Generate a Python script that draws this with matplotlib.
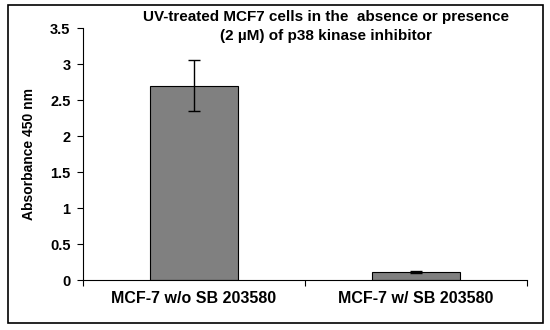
import matplotlib
matplotlib.use("Agg")
import matplotlib.pyplot as plt
from matplotlib.patches import Rectangle

# data
groups = ["MCF-7 w/o SB 203580", "MCF-7 w/ SB 203580"]
absorbance = [2.70, 0.11]
errors = [0.35, 0.01]
yticks = [0, 0.5, 1, 1.5, 2, 2.5, 3, 3.5]

plt.rcParams["font.family"] = ["Liberation Sans", "DejaVu Sans"]

fig = plt.figure(figsize=(5.5, 3.3), dpi=100)
ax = fig.add_axes([83 / 550, 50 / 330, 444 / 550, 252 / 330])

# outer border like the excel chart area
fig.patches.append(Rectangle((8 / 550, 7 / 330), 535 / 550, 318 / 330,
                             transform=fig.transFigure, fill=False,
                             edgecolor="black", linewidth=1.2))

x = [0, 1]
ax.bar(x, absorbance, width=0.4, color="#808080", edgecolor="black", linewidth=0.8,
       yerr=errors, error_kw=dict(ecolor="black", elinewidth=1, capsize=4, capthick=1))

ax.set_xlim(-0.5, 1.5)
ax.set_ylim(0, 3.5)
ax.set_yticks(yticks)
ax.set_yticklabels([f"{v:g}" for v in yticks], fontsize=10.5, fontweight="bold")
ax.set_xticks([-0.5, 0.5, 1.5])
ax.set_xticklabels([])
ax.set_xticks(x, minor=True)
ax.set_xticklabels(groups, minor=True, fontsize=11.5, fontweight="bold")
ax.tick_params(axis="x", which="minor", length=0, pad=8)
ax.tick_params(axis="x", which="major", length=4, direction="out")
ax.tick_params(axis="y", length=4, direction="out", pad=5)

for s in ["top", "right"]:
    ax.spines[s].set_visible(False)

ax.set_ylabel("Absorbance 450 nm", fontsize=10, fontweight="bold", labelpad=10)

fig.text(326 / 550, 1 - 17 / 330, "UV-treated MCF7 cells in the  absence or presence",
         ha="center", va="center", fontsize=11, fontweight="bold")
fig.text(326 / 550, 1 - 36 / 330, "(2 \u00b5M) of p38 kinase inhibitor",
         ha="center", va="center", fontsize=11, fontweight="bold")

fig.savefig("out.png", dpi=100, facecolor="white")
